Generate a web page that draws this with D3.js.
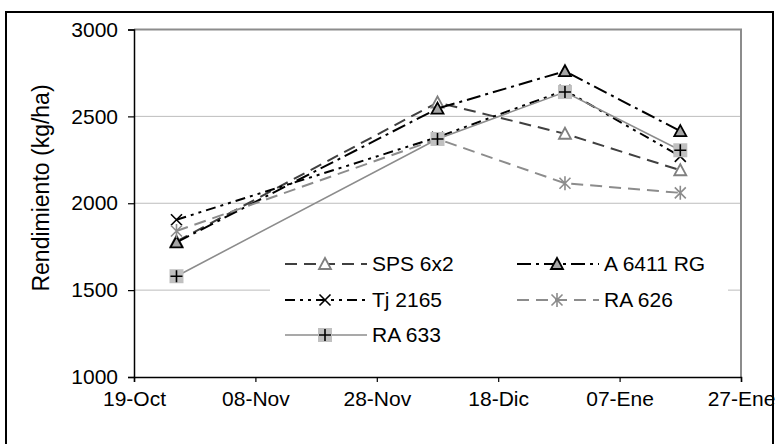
<!DOCTYPE html>
<html>
<head>
<meta charset="utf-8">
<script src="https://cdn.jsdelivr.net/npm/d3@7"></script>
<style>
  html, body { margin: 0; padding: 0; background: #fff; }
  svg text { font-family: "Liberation Sans", Arial, sans-serif; fill: #000; }
</style>
</head>
<body>
<svg id="chart" width="778" height="444"></svg>
<script>
// Sowing / sampling dates (UTC) and yields in kg/ha per cultivar
const sampleDates = ["2000-10-26", "2000-12-08", "2000-12-29", "2001-01-17"];
const sps6x2   = [1780, 2580, 2400, 2190];
const a6411rg  = [1775, 2545, 2760, 2415];
const tj2165   = [1905, 2380, 2650, 2270];
const ra626    = [1840, 2370, 2115, 2060];
const ra633    = [1580, 2370, 2640, 2305];

const seriesNames = ["SPS 6x2", "A 6411 RG", "Tj 2165", "RA 626", "RA 633"];

const xTickDates  = ["2000-10-19", "2000-11-08", "2000-11-28", "2000-12-18", "2001-01-07", "2001-01-27"];
const xTickLabels = ["19-Oct", "08-Nov", "28-Nov", "18-Dic", "07-Ene", "27-Ene"];
const yTicks      = [1000, 1500, 2000, 2500, 3000];

const parse = d3.utcParse("%Y-%m-%d");
const FONT = 21;

const svg = d3.select("#chart");

// Plot area
const plotL = 134, plotR = 741, plotT = 29.5, plotB = 377;

const x = d3.scaleUtc()
  .domain([parse(xTickDates[0]), parse(xTickDates[xTickDates.length - 1])])
  .range([plotL, plotR]);
const y = d3.scaleLinear().domain([1000, 3000]).range([plotB, plotT]);

// Outer frame
svg.append("rect")
  .attr("x", 6).attr("y", 12).attr("width", 767).attr("height", 440)
  .attr("fill", "none").attr("stroke", "#000").attr("stroke-width", 2);

// Horizontal gridlines
svg.append("g").selectAll("line")
  .data(yTicks.filter(v => v > 1000 && v < 3000))
  .join("line")
  .attr("x1", plotL).attr("x2", plotR)
  .attr("y1", d => y(d)).attr("y2", d => y(d))
  .attr("stroke", "#bdbdbd").attr("stroke-width", 1);

// Top and right edges of plot frame
svg.append("path")
  .attr("d", `M${plotL},${y(3000)}H${plotR}V${plotB}`)
  .attr("fill", "none").attr("stroke", "#8c8c8c").attr("stroke-width", 2);

// Axes
const xAxis = d3.axisBottom(x)
  .tickValues(xTickDates.map(parse))
  .tickFormat((d, i) => xTickLabels[i])
  .tickSizeOuter(0).tickSize(5).tickPadding(9);
const gx = svg.append("g").attr("transform", `translate(0,${plotB})`).call(xAxis);
gx.attr("font-size", FONT).attr("font-family", "Liberation Sans, Arial, sans-serif");
gx.select(".domain").attr("stroke", "#000").attr("stroke-width", 1.5);
gx.selectAll(".tick line").attr("stroke", "#000").attr("stroke-width", 1.2);
gx.selectAll("text").attr("fill", "#000");

const yAxis = d3.axisLeft(y)
  .tickValues(yTicks)
  .tickFormat(d3.format("d"))
  .tickSizeOuter(0).tickSize(6).tickPadding(10);
const gy = svg.append("g").attr("transform", `translate(${plotL},0)`).call(yAxis);
gy.attr("font-size", FONT).attr("font-family", "Liberation Sans, Arial, sans-serif");
gy.select(".domain").attr("stroke", "#000").attr("stroke-width", 1.5);
gy.selectAll(".tick line").attr("stroke", "#000").attr("stroke-width", 1.2);
gy.selectAll("text").attr("fill", "#000");

// Axis title
svg.append("text")
  .attr("transform", `translate(49,188) rotate(-90)`)
  .attr("text-anchor", "middle")
  .attr("font-size", 23)
  .text("Rendimiento (kg/ha)");

// Marker drawers
const markers = {
  triOpen: (g) => g.append("path").attr("d", "M0,-6L6,5L-6,5Z")
    .attr("fill", "#fff").attr("stroke", "#808080").attr("stroke-width", 1.8),
  triFill: (g) => g.append("path").attr("d", "M0,-6L6,5L-6,5Z")
    .attr("fill", "#a6a6a6").attr("stroke", "#000").attr("stroke-width", 1.8),
  cross: (g) => g.append("path").attr("d", "M-5.5,-5.5L5.5,5.5M5.5,-5.5L-5.5,5.5")
    .attr("stroke", "#000").attr("stroke-width", 1.6),
  star: (g) => g.append("path").attr("d", "M-5.5,-5.5L5.5,5.5M5.5,-5.5L-5.5,5.5M0,-7V7")
    .attr("stroke", "#8c8c8c").attr("stroke-width", 1.6),
  plusBox: (g) => {
    g.append("rect").attr("x", -7).attr("y", -7).attr("width", 14).attr("height", 14)
      .attr("fill", "#c0c0c0");
    g.append("path").attr("d", "M-6,0H6M0,-6V6")
      .attr("stroke", "#000").attr("stroke-width", 1.6);
  }
};

const series = [
  { name: seriesNames[0], values: sps6x2,  color: "#404040", width: 2,   dash: "12,7",           marker: "triOpen" },
  { name: seriesNames[1], values: a6411rg, color: "#000",    width: 2,   dash: "14,5,3,5",       marker: "triFill" },
  { name: seriesNames[2], values: tj2165,  color: "#000",    width: 2,   dash: "10,5,3,5,3,5",   marker: "cross" },
  { name: seriesNames[3], values: ra626,   color: "#8c8c8c", width: 2,   dash: "12,7",           marker: "star" },
  { name: seriesNames[4], values: ra633,   color: "#8c8c8c", width: 1.6, dash: null,             marker: "plusBox" }
];

const line = d3.line().x(d => x(d.date)).y(d => y(d.value));

series.forEach(s => {
  const pts = s.values.map((v, i) => ({ date: parse(sampleDates[i]), value: v }));
  const g = svg.append("g");
  g.append("path").datum(pts)
    .attr("d", line)
    .attr("fill", "none")
    .attr("stroke", s.color)
    .attr("stroke-width", s.width)
    .attr("stroke-dasharray", s.dash);
  pts.forEach(p => {
    const m = g.append("g").attr("transform", `translate(${x(p.date)},${y(p.value)})`);
    markers[s.marker](m);
  });
});

// Legend (white backing hides the gridline behind it)
const legend = svg.append("g");
legend.append("rect")
  .attr("x", 270).attr("y", 246).attr("width", 458).attr("height", 106)
  .attr("fill", "#fff");

const legendCols = [285, 517];
const legendRows = [264, 300, 335];
series.forEach((s, i) => {
  const cx = legendCols[i % 2], cy = legendRows[Math.floor(i / 2)];
  const g = legend.append("g").attr("transform", `translate(${cx},${cy})`);
  g.append("line").attr("x1", 0).attr("x2", 82).attr("y1", 0).attr("y2", 0)
    .attr("stroke", s.color).attr("stroke-width", s.width)
    .attr("stroke-dasharray", s.dash);
  const m = g.append("g").attr("transform", "translate(40,0)");
  markers[s.marker](m);
  g.append("text").attr("x", 87).attr("y", 0).attr("dy", "0.35em")
    .attr("font-size", FONT).text(s.name);
});
</script>
</body>
</html>
